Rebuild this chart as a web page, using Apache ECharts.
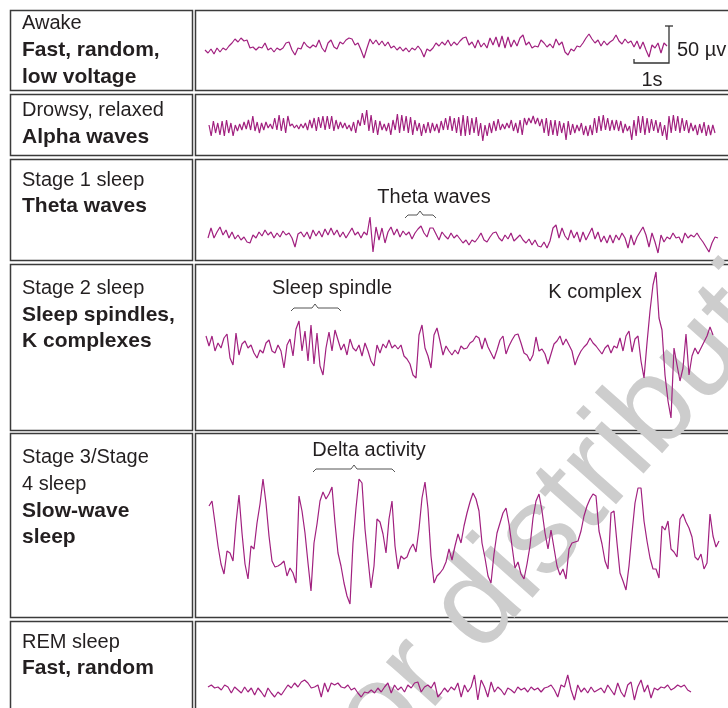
<!DOCTYPE html>
<html><head><meta charset="utf-8">
<script src="https://cdn.jsdelivr.net/npm/echarts@6/dist/echarts.min.js"></script>
<style>html,body{margin:0;padding:0;background:#fff}#c{width:728px;height:708px}</style>
</head><body><div id="c"></div>
<script>
// ---- data (amplitudes, arbitrary units, equal time steps) ----
const awake = [-3,-6,-2,-7,-1,-5,-1,-3,1,4,8,5,9,6,7,-1,0,-3,0,-1,4,-3,-1,-5,-1,-3,-1,4,5,-3,-8,-1,-2,5,1,-1,2,0,7,-1,-5,4,7,0,-2,5,3,7,9,8,2,4,-3,-11,-1,8,3,7,2,6,1,5,-1,1,-3,0,-4,-1,-5,-1,-3,1,-3,-10,-2,-4,-1,4,1,5,2,7,1,5,2,6,9,10,
  2,5,-1,7,0,4,-1,9,2,10,0,11,-1,10,0,7,1,9,12,2,5,-1,1,0,7,4,0,3,-1,8,2,5,-5,-8,-2,-4,1,0,4,9,13,8,4,7,1,6,2,5,7,12,6,3,8,4,6,0,6,-2,5,-3,-10,2,-1,4,-6,4,1];
const drowsy = [2,-9,6,-6,4,-8,6,-9,7,-6,4,-9,2,-4,3,-3,5,-2,7,-3,11,-4,5,-6,4,-3,5,-1,3,-2,9,-3,12,-4,9,-6,11,1,3,-1,2,-2,3,-1,4,-3,7,-1,9,-4,10,-1,11,-3,11,-2,11,-4,7,-2,5,-1,4,-2,2,-4,5,-6,7,1,14,2,17,-4,12,-6,7,-8,6,-3,3,-4,4,-8,7,-3,13,-6,12,-4,11,-6,10,-8,7,-4,4,-9,3,-6,5,-6,4,-4,3,-6,6,-3,9,-3,11,-4,9,-6,10,-9,
  12,-9,11,-8,9,-6,10,-9,4,-14,2,-9,4,-6,6,-4,8,-3,3,-2,4,-1,7,-4,4,-6,7,-8,9,2,9,4,11,3,9,1,8,-6,9,-9,7,-8,7,-9,6,-6,4,-13,6,-8,3,-6,2,-4,4,-8,1,-9,2,-8,9,-6,11,-4,12,-3,9,-4,7,-3,7,-4,6,-6,3,-4,1,-13,7,-9,11,-6,11,-8,9,-6,8,-4,7,-6,5,-9,2,-13,11,-6,12,-4,11,-6,9,-4,7,-6,4,-4,2,-8,3,-6,5,-9,2,-8,2,-6];
const stage1 = [-3,7,-3,3,8,0,5,-3,3,-4,0,-5,-2,-7,-8,0,-3,3,-1,5,0,3,-3,2,-2,4,0,2,-3,-12,1,3,-2,3,-4,5,-1,4,-2,6,0,7,0,5,-2,3,-3,2,7,0,3,-3,3,0,18,-17,8,-5,7,-8,3,8,0,6,-2,4,0,3,-4,2,6,9,2,-2,7,7,1,-5,3,-1,-4,2,-3,0,-4,-8,-5,
  -10,-5,-7,-3,2,-5,-7,-2,2,3,-3,-6,0,-4,2,-6,-3,0,-5,-8,-4,-10,-5,-11,-12,-7,-13,-6,7,10,-3,7,-1,-5,5,-3,3,-7,3,-5,1,7,-4,3,-7,-1,-8,0,-8,0,-5,2,-3,-13,0,-10,-2,3,8,0,-12,2,-7,-18,0,-7,-2,-4,2,-3,-2,-8,2,-3,0,-2,2,-3,-7,-12,-17,-8,-2,-3];
const stage2 = [9,-1,9,-6,2,-3,7,11,-13,-20,12,-10,1,4,-3,0,-8,-13,-5,-8,2,5,-6,-8,0,-6,-23,0,6,-11,16,24,-6,14,-16,20,-19,12,-21,-30,-3,13,-6,15,5,-5,1,-10,6,-3,-6,0,-11,2,-6,-16,-21,0,-8,1,-3,5,-3,0,-4,0,-11,-14,-19,-30,-33,10,20,-3,-11,-23,10,17,4,-10,-1,-6,-10,-5,-9,-1,-4,
  -3,2,4,9,7,-4,7,-2,-8,-14,-5,5,9,-9,-1,5,10,11,2,-8,-10,-16,-10,8,-6,-4,-9,-19,-9,1,4,9,0,6,0,-6,-20,-12,-6,-2,1,7,2,-1,-5,-9,-3,0,-8,-1,-3,7,-6,9,14,-7,6,9,-16,-33,2,34,60,73,27,15,-30,-56,-73,-3,-20,-36,-23,11,-30,-11,-3,-9,-3,3,9,18,10];
const stage34 = [34,39,17,-6,-24,-34,-11,-13,-21,17,45,7,-24,-39,-6,-9,17,36,61,37,4,-21,-27,-26,-24,-21,-36,-28,-33,-43,44,29,7,-23,-51,-3,16,39,48,41,46,53,17,-13,-26,-43,-56,-64,-3,32,61,57,11,-19,-48,-26,21,18,6,-13,21,39,-6,-29,-16,-19,-17,-9,-4,-12,11,42,58,31,-16,-43,-36,-33,-29,-22,-9,-20,-6,6,-3,14,
  27,38,47,41,29,-3,-18,-36,-43,-14,7,17,27,32,16,-6,-28,-22,-34,-39,-24,-6,22,39,46,29,7,-9,10,-8,-26,-35,-29,-39,-9,-3,-2,-1,9,24,34,41,46,44,9,-4,-21,-29,27,29,-3,-33,-41,-50,-26,7,37,52,52,19,-1,-18,-29,-29,-38,14,10,19,-9,-12,-17,21,26,18,12,3,-17,-20,-14,-29,-23,26,4,-7,-1];
const rem = [2,4,1,2,-1,4,2,-4,2,-1,-4,2,-3,1,-6,1,-3,-8,1,-4,-8,-3,-6,-1,4,1,6,2,7,9,6,1,2,4,-8,6,-3,6,4,6,2,1,4,-1,1,-4,-8,-3,-4,-1,-4,1,-3,2,6,-4,4,-1,2,-3,4,1,6,7,-3,2,4,1,7,-8,-4,1,-3,2,-1,6,-8,4,-3,2,14,-11,9,2,-8,7,-3,2,-1,-6,1,-1,-4,2,-1,1,-3,2,-1,1,-3,1,2,4,-1,-8,4,2,14,-1,-11,4,-3,1,-4,2,-3,-1,1,-4,4,-1,-6,6,-3,-8,4,7,-11,2,9,-3,4,-9,1,-1,2,1,4,-1,1,4,2,4,-1,-3];

const stageTitles = ['Awake', 'Drowsy, relaxed', 'Stage 1 sleep', 'Stage 2 sleep', 'Stage 3/Stage\n4 sleep', 'REM sleep'];
const stageDescs = ['Fast, random,\nlow voltage', 'Alpha waves', 'Theta waves', 'Sleep spindles,\nK complexes', 'Slow-wave\nsleep', 'Fast, random'];
const annotations = ['Theta waves', 'Sleep spindle', 'K complex', 'Delta activity'];
const scaleLabels = ['50 \u00b5v', '1s'];
const watermark = 'or distribution';

// ---- layout ----
const FONT = "'Liberation Sans', Arial, Helvetica, sans-serif";
const INK = '#231f20';
const TRACE = '#a1207f';
const rows = [[10,90],[94,155],[159,260],[264,430],[433,617],[621,716]];
const traceLayout = [
  {data: awake,   left: 205, width: 462, center: 47,  half: 20},
  {data: drowsy,  left: 209, width: 506, center: 127, half: 20},
  {data: stage1,  left: 208, width: 510, center: 235, half: 30},
  {data: stage2,  left: 206, width: 507, center: 345, half: 80},
  {data: stage34, left: 209, width: 510, center: 540, half: 70},
  {data: rem,     left: 208, width: 483, center: 689, half: 15}
];
const labelY = [[23,50,77],[110,137],[180,206],[288,315,341],[457,484,511,537],[642,668]];

const grid = [], xAxis = [], yAxis = [], series = [];
traceLayout.forEach((t, i) => {
  grid.push({left: t.left, width: t.width, top: t.center - t.half, height: 2 * t.half});
  xAxis.push({type: 'category', gridIndex: i, boundaryGap: false, show: false, data: t.data.map((_, k) => k)});
  yAxis.push({type: 'value', gridIndex: i, min: -t.half, max: t.half, show: false});
  series.push({type: 'line', xAxisIndex: i, yAxisIndex: i, data: t.data, showSymbol: false, silent: true, z: 5,
    lineStyle: {color: TRACE, width: 1.2}});
});

const g = [];
g.push({type: 'text', x: 404, y: 783, rotation: 0.84, z: 1, silent: true,
  style: {text: watermark, font: '125px ' + FONT, fill: '#cdcdcd', verticalAlign: 'bottom', align: 'left'}});
rows.forEach(([t, b]) => {
  g.push({type: 'rect', z: 0, shape: {x: 10.5, y: t + 0.5, width: 182, height: b - t}, style: {fill: 'none', stroke: '#3b3b3b', lineWidth: 1.5}});
  g.push({type: 'rect', z: 0, shape: {x: 195.5, y: t + 0.5, width: 560, height: b - t}, style: {fill: 'none', stroke: '#3b3b3b', lineWidth: 1.5}});
});
stageTitles.forEach((title, i) => {
  const lines = title.split('\n').map(s => [s, false]).concat(stageDescs[i].split('\n').map(s => [s, true]));
  lines.forEach(([s, bold], j) => {
    g.push({type: 'text', x: 22, y: labelY[i][j], z: 3,
      style: {text: s, font: (bold ? 'bold 21px ' : '20px ') + FONT, fill: INK, verticalAlign: 'middle', align: 'left'}});
  });
});
const annPos = [[434, 197], [332, 288], [595, 292], [369, 450]];
annotations.forEach((s, i) => {
  g.push({type: 'text', x: annPos[i][0], y: annPos[i][1], z: 3,
    style: {text: s, font: '20px ' + FONT, fill: INK, verticalAlign: 'middle', align: 'center'}});
});
function brace(x1, x2, xm, y) {
  return {type: 'polyline', z: 3, shape: {points: [[x1, y + 4], [x1 + 3, y + 1], [xm - 3, y + 1], [xm, y - 3], [xm + 3, y + 1], [x2 - 3, y + 1], [x2, y + 4]]},
    style: {stroke: '#555', lineWidth: 1, fill: 'none'}};
}
g.push(brace(405, 436, 420, 214));
g.push(brace(291, 341, 315, 307));
g.push(brace(313, 395, 354, 468));
g.push({type: 'polyline', z: 3, shape: {points: [[665, 26], [673, 26]]}, style: {stroke: '#333', lineWidth: 1.3}});
g.push({type: 'polyline', z: 3, shape: {points: [[669, 26], [669, 63], [634, 63], [634, 59]]}, style: {stroke: '#333', lineWidth: 1.3, fill: 'none'}});
g.push({type: 'text', x: 677, y: 50, z: 3, style: {text: scaleLabels[0], font: '20px ' + FONT, fill: INK, verticalAlign: 'middle', align: 'left'}});
g.push({type: 'text', x: 652, y: 80, z: 3, style: {text: scaleLabels[1], font: '20px ' + FONT, fill: INK, verticalAlign: 'middle', align: 'center'}});

const chart = echarts.init(document.getElementById('c'), null, {renderer: 'canvas'});
chart.setOption({animation: false, backgroundColor: '#fff', grid, xAxis, yAxis, series, graphic: {elements: g}});
</script></body></html>
